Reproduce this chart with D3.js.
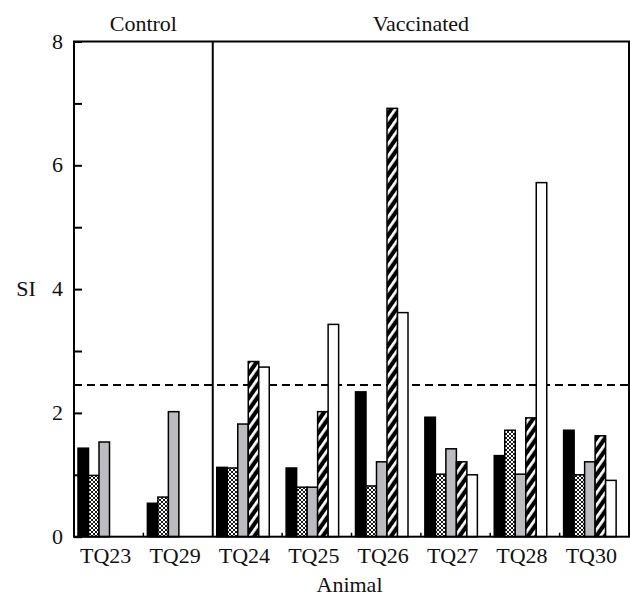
<!DOCTYPE html>
<html><head><meta charset="utf-8">
<script src="https://cdn.jsdelivr.net/npm/d3@7"></script>
<style>body{margin:0;background:#fff}</style>
</head><body><svg id="c" width="630" height="597"></svg>
<script>
const animals = ["TQ23","TQ29","TQ24","TQ25","TQ26","TQ27","TQ28","TQ30"];
const seriesNames = ["s1","s2","s3","s4","s5"];
const s1 = [1.43,0.54,1.12,1.11,2.34,1.93,1.31,1.72];
const s2 = [0.99,0.64,1.11,0.80,0.82,1.01,1.72,1.00];
const s3 = [1.53,2.02,1.82,0.80,1.21,1.42,1.01,1.21];
const s4 = [null,null,2.83,2.02,6.92,1.21,1.92,1.63];
const s5 = [null,null,2.74,3.43,3.62,1.00,5.72,0.91];
const yTicks = [0,2,4,6,8];
const yMinor = [0,1,2,3,4,5,6,7,8];
const threshold = 2.45;
const groups = [{name:"Control", from:0, to:2},{name:"Vaccinated", from:2, to:8}];

const FONT = "'Liberation Serif','Times New Roman','DejaVu Serif',serif";
const svg = d3.select("#c").attr("font-family",FONT);
const L=74, R=629, T=41.5, B=536.7;
const x = d3.scaleBand().domain(animals).range([L,R]).padding(0);
const xi = d3.scaleBand().domain(seriesNames).range([4, 56.5]).padding(0);
const y = d3.scaleLinear().domain([0,8]).range([B,T]);

const defs = svg.append("defs");
const ch = defs.append("pattern").attr("id","cross").attr("patternUnits","userSpaceOnUse").attr("width",4).attr("height",4);
ch.append("rect").attr("width",4).attr("height",4).attr("fill","#fff");
ch.append("path").attr("d","M0,0L4,4M4,0L0,4").attr("stroke","#000").attr("stroke-width",0.9);
const hs = defs.append("pattern").attr("id","hatch").attr("patternUnits","userSpaceOnUse").attr("width",7).attr("height",7).attr("patternTransform","rotate(35)");
hs.append("rect").attr("width",7).attr("height",7).attr("fill","#000");
hs.append("rect").attr("x",0).attr("width",2.8).attr("height",7).attr("fill","#fff");

const fills = {s1:"#000", s2:"url(#cross)", s3:"#bcbcc0", s4:"url(#hatch)", s5:"#fff"};
const data = {s1,s2,s3,s4,s5};

svg.append("line").attr("x1",L).attr("x2",R).attr("y1",y(threshold)).attr("y2",y(threshold))
  .attr("stroke","#000").attr("stroke-width",2).attr("stroke-dasharray","8,5");

seriesNames.forEach(s=>{
  svg.append("g").selectAll("rect").data(animals.map((a,i)=>({a,v:data[s][i]})).filter(d=>d.v!=null))
    .join("rect")
    .attr("x",d=>x(d.a)+xi(s)).attr("width",xi.bandwidth())
    .attr("y",d=>y(d.v)).attr("height",d=>y(0)-y(d.v))
    .attr("fill",fills[s]).attr("stroke","#000").attr("stroke-width",1.5);
});

svg.append("rect").attr("x",L).attr("y",T).attr("width",R-L).attr("height",B-T)
  .attr("fill","none").attr("stroke","#000").attr("stroke-width",2);
svg.append("line").attr("x1",x(animals[2])).attr("x2",x(animals[2])).attr("y1",T).attr("y2",B)
  .attr("stroke","#000").attr("stroke-width",2);

const yAxis = d3.axisRight(y).tickValues(yMinor).tickSize(8).tickFormat("");
const ga = svg.append("g").attr("transform",`translate(${L},0)`).call(yAxis);
ga.select(".domain").remove();
ga.selectAll("line").attr("stroke","#000").attr("stroke-width",2);
svg.append("g").selectAll("text").data(yTicks).join("text")
  .attr("x",63).attr("y",d=>y(d)+7).attr("text-anchor","end").attr("font-size",22).attr("fill","#111").text(d=>d);

const bounds = animals.slice(1).map(a=>x(a)).filter((v,i)=>i!==1);
svg.append("g").selectAll("line").data(bounds).join("line")
  .attr("x1",d=>d).attr("x2",d=>d).attr("y1",B).attr("y2",B-4).attr("stroke","#000").attr("stroke-width",1.5);

svg.append("g").selectAll("text").data(animals).join("text")
  .attr("x",d=>x(d)+x.bandwidth()/2-3).attr("y",563).attr("text-anchor","middle").attr("font-size",22).attr("fill","#111").text(d=>d);

svg.append("g").selectAll("text").data(groups).join("text")
  .attr("x",g=>(x(animals[g.from]) + (g.to<animals.length? x(animals[g.to]) : R))/2)
  .attr("y",31).attr("text-anchor","middle").attr("font-size",22).attr("fill","#111").text(g=>g.name);

svg.append("text").attr("x",26).attr("y",y(4)+7).attr("text-anchor","middle").attr("font-size",22).attr("fill","#111").text("SI");
svg.append("text").attr("x",(L+R)/2-2).attr("y",592).attr("text-anchor","middle").attr("font-size",22).attr("fill","#111").text("Animal");
</script></body></html>
